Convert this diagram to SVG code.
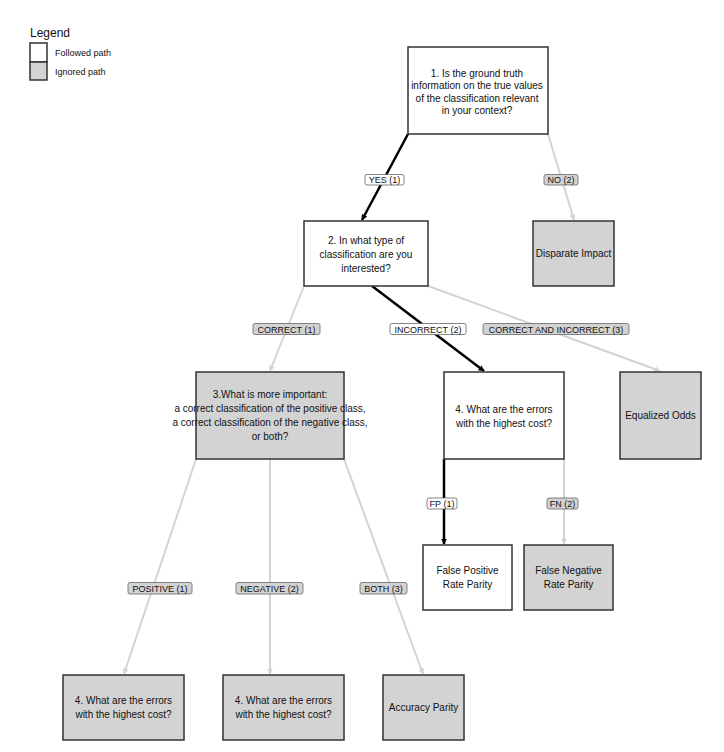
<svg xmlns="http://www.w3.org/2000/svg" width="724" height="752" viewBox="0 0 724 752">
<style>
text{font-family:"Liberation Sans",Arial,Helvetica,sans-serif;fill:#111}
.t{font-size:10px;text-anchor:middle}
.l{font-size:9px;text-anchor:middle}
.n{stroke:#333;stroke-width:1.5}
.w{fill:#fff}
.g{fill:#d3d3d3}
.lb{stroke:#666;stroke-width:0.8}
.eg{stroke:#d3d3d3;stroke-width:2;fill:none}
.eb{stroke:#000;stroke-width:2.5;fill:none}
</style>
<defs>
<marker id="ab" viewBox="0 0 10 10" refX="9" refY="5" markerWidth="6" markerHeight="6" markerUnits="userSpaceOnUse" orient="auto"><path d="M0,0L10,5L0,10z" fill="#000"/></marker>
<marker id="ag" viewBox="0 0 10 10" refX="9" refY="5" markerWidth="6" markerHeight="6" markerUnits="userSpaceOnUse" orient="auto"><path d="M0,0L10,5L0,10z" fill="#d3d3d3"/></marker>
</defs>
<rect width="724" height="752" fill="#fff"/>
<g id="legend">
<text x="30" y="37" style="font-size:12px">Legend</text>
<rect x="30" y="43" width="17" height="19" class="n w"/>
<rect x="30" y="62" width="17" height="18" class="n g"/>
<text x="55" y="56" style="font-size:9px">Followed path</text>
<text x="55" y="75" style="font-size:9px">Ignored path</text>
</g>
<g id="connectors">
<line x1="408" y1="134" x2="362" y2="220" class="eb" marker-end="url(#ab)"/>
<line x1="548" y1="134" x2="574" y2="220" class="eg" marker-end="url(#ag)"/>
<line x1="304" y1="286" x2="270" y2="371" class="eg" marker-end="url(#ag)"/>
<line x1="372" y1="286" x2="484" y2="371" class="eb" marker-end="url(#ab)"/>
<line x1="428" y1="286" x2="660" y2="371" class="eg" marker-end="url(#ag)"/>
<line x1="196" y1="459" x2="124" y2="674" class="eg" marker-end="url(#ag)"/>
<line x1="270" y1="459" x2="270" y2="674" class="eg" marker-end="url(#ag)"/>
<line x1="344" y1="459" x2="423" y2="674" class="eg" marker-end="url(#ag)"/>
<line x1="444" y1="459" x2="444" y2="544" class="eb" marker-end="url(#ab)"/>
<line x1="564" y1="459" x2="564" y2="544" class="eg" marker-end="url(#ag)"/>
<g id="edge-labels">
<rect x="365" y="174.5" width="39" height="10.5" rx="2" class="lb w"/><text x="384.5" y="183" class="l">YES (1)</text>
<rect x="544" y="174.5" width="34" height="10.5" rx="2" class="lb g"/><text x="561" y="183" class="l">NO (2)</text>
<rect x="253" y="323.5" width="67" height="11" rx="2" class="lb g"/><text x="286.5" y="332.5" class="l">CORRECT (1)</text>
<rect x="390" y="323.5" width="76" height="11" rx="2" class="lb w"/><text x="428" y="332.5" class="l">INCORRECT (2)</text>
<rect x="483" y="323.5" width="146" height="11" rx="2" class="lb g"/><text x="556" y="332.5" class="l">CORRECT AND INCORRECT (3)</text>
<rect x="427" y="498" width="30" height="11" rx="2" class="lb w"/><text x="442" y="507" class="l">FP (1)</text>
<rect x="547" y="498" width="31" height="11" rx="2" class="lb g"/><text x="562.5" y="507" class="l">FN (2)</text>
<rect x="128" y="582.5" width="64" height="11.5" rx="2" class="lb g"/><text x="160" y="591.5" class="l">POSITIVE (1)</text>
<rect x="236" y="582.5" width="67" height="11.5" rx="2" class="lb g"/><text x="269.5" y="591.5" class="l">NEGATIVE (2)</text>
<rect x="360" y="582.5" width="47" height="11.5" rx="2" class="lb g"/><text x="383.5" y="591.5" class="l">BOTH (3)</text>
</g>
</g>
<g id="n1">
<rect x="408" y="47" width="140" height="87" class="n w"/>
<text class="t" x="477" y="76.5">1. Is the ground truth</text>
<text class="t" x="477" y="89">information on the true values</text>
<text class="t" x="477" y="101.5">of the classification relevant</text>
<text class="t" x="477" y="114">in your context?</text>
</g>
<g id="n2">
<rect x="304" y="221" width="124" height="65" class="n w"/>
<text class="t" x="366" y="243.5">2. In what type of</text>
<text class="t" x="366" y="257.5">classification are you</text>
<text class="t" x="366" y="271.5">interested?</text>
</g>
<g id="n-disparate">
<rect x="533" y="221" width="81" height="65" class="n g"/>
<text class="t" x="573.5" y="257">Disparate Impact</text>
</g>
<g id="n3">
<rect x="196" y="372" width="148" height="87" class="n g"/>
<text class="t" x="270" y="397.5">3.What is more important:</text>
<text class="t" x="270" y="411.5">a correct classification of the positive class,</text>
<text class="t" x="270" y="425.5">a correct classification of the negative class,</text>
<text class="t" x="270" y="439.5">or both?</text>
</g>
<g id="n4">
<rect x="444" y="372" width="120" height="87" class="n w"/>
<text class="t" x="504" y="412.5">4. What are the errors</text>
<text class="t" x="504" y="426.5">with the highest cost?</text>
</g>
<g id="n-eqodds">
<rect x="620" y="372" width="81" height="87" class="n g"/>
<text class="t" x="660.5" y="419">Equalized Odds</text>
</g>
<g id="n-fpr">
<rect x="423" y="545" width="89" height="65" class="n w"/>
<text class="t" x="467.5" y="574">False Positive</text>
<text class="t" x="467.5" y="588">Rate Parity</text>
</g>
<g id="n-fnr">
<rect x="524" y="545" width="89" height="65" class="n g"/>
<text class="t" x="568.5" y="574">False Negative</text>
<text class="t" x="568.5" y="588">Rate Parity</text>
</g>
<g id="n-pos">
<rect x="63" y="675" width="121" height="65" class="n g"/>
<text class="t" x="123.5" y="704">4. What are the errors</text>
<text class="t" x="123.5" y="718">with the highest cost?</text>
</g>
<g id="n-neg">
<rect x="223" y="675" width="121" height="65" class="n g"/>
<text class="t" x="283.5" y="704">4. What are the errors</text>
<text class="t" x="283.5" y="718">with the highest cost?</text>
</g>
<g id="n-acc">
<rect x="383" y="675" width="81" height="65" class="n g"/>
<text class="t" x="423.5" y="711">Accuracy Parity</text>
</g>
</svg>
